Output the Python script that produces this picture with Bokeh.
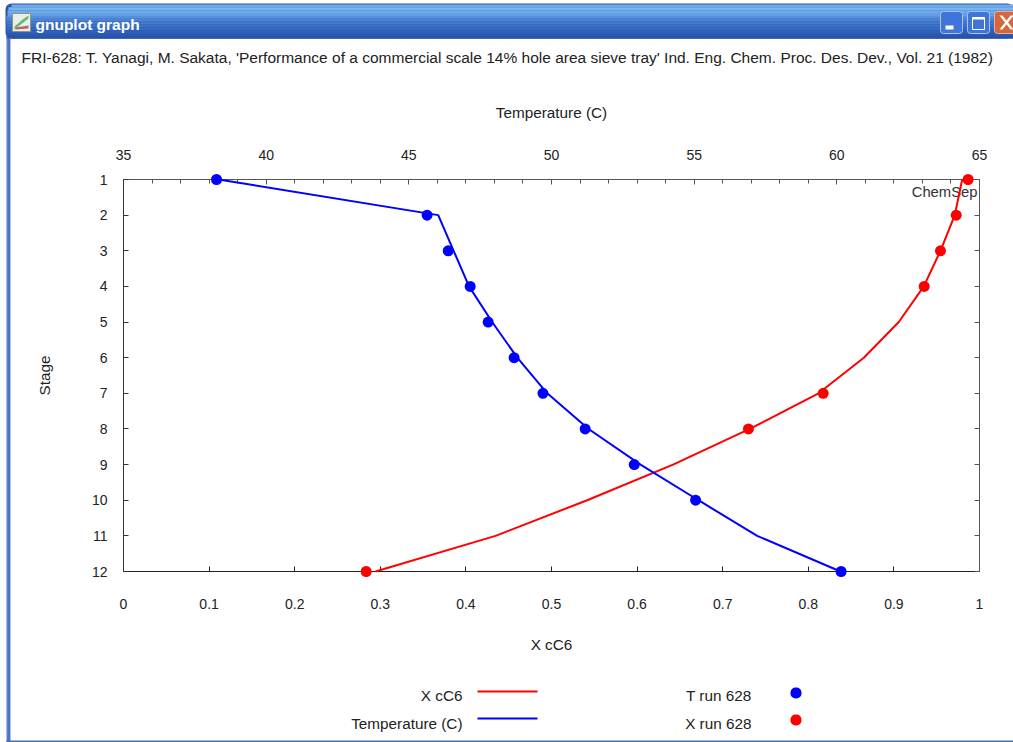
from bokeh.plotting import figure
from bokeh.models import (Range1d, LinearAxis, FixedTicker, Label, BoxAnnotation, PolyAnnotation)
from bokeh.embed import file_html
from bokeh.resources import INLINE

# ---- data ----
stages = [1, 2, 3, 4, 5, 6, 7, 8, 9, 10, 11, 12]
x_cc6 = [0.9798, 0.9711, 0.9544, 0.9349, 0.9057, 0.8649, 0.8120, 0.7315, 0.6420, 0.5417, 0.4346, 0.2944]
temperature = [38.33, 46.03, 46.57, 47.11, 47.92, 48.80, 49.85, 51.30, 53.12, 55.15, 57.21, 60.13]
t_run_stage = [1, 2, 3, 4, 5, 6, 7, 8, 9, 10, 12]
t_run = [38.26, 45.64, 46.38, 47.15, 47.78, 48.69, 49.70, 51.18, 52.90, 55.05, 60.15]
x_run_stage = [1, 2, 3, 4, 7, 8, 12]
x_run = [0.9867, 0.9728, 0.9544, 0.9354, 0.8174, 0.7301, 0.2835]
x_ticks = [0, 0.1, 0.2, 0.3, 0.4, 0.5, 0.6, 0.7, 0.8, 0.9, 1]
t_ticks = [35, 40, 45, 50, 55, 60, 65]
t_minor = [t for t in range(35, 66) if t % 5]
title_text = ("FRI-628: T. Yanagi, M. Sakata, 'Performance of a commercial scale 14% hole area "
              "sieve tray' Ind. Eng. Chem. Proc. Des. Dev., Vol. 21 (1982)")

FONT = "Liberation Sans"
INK = "#222222"
FS = "14px"
LS = "15.3px"
PIN = {"position": "absolute", "left": "0px", "top": "0px"}
FRAME_W, FRAME_H = 856, 392   # plot area size in px
BL, BR, BT, BB = 123, 34, 179, 171  # plot area borders
E = 8  # spare px round the plot area, so markers on its edge are not cut

# ---- full-window backdrop: window frame, title text, legend ----
bg = figure(width=1013, height=742, output_backend="svg", toolbar_location=None,
            x_range=Range1d(0, 1013), y_range=Range1d(742, 0),
            min_border=0, background_fill_color="white", border_fill_color="white",
            outline_line_color=None, x_axis_type=None, y_axis_type=None)
bg.styles = PIN
bg.grid.visible = False

# ---- axes of the chart, laid over the backdrop ----
p = figure(width=1013, height=742, output_backend="svg", toolbar_location=None,
           x_range=Range1d(0, 1), y_range=Range1d(12, 1),
           min_border_left=BL, min_border_right=BR, min_border_top=BT, min_border_bottom=BB,
           background_fill_color=None, border_fill_color=None, outline_line_color=None,
           x_axis_type=None, y_axis_type=None)
p.styles = PIN
p.grid.visible = False
p.extra_x_ranges["temp"] = Range1d(35, 65)

# ---- lines and markers: same scales, slightly larger frame ----
dx = E / FRAME_W
dy = E * 11 / FRAME_H
m = figure(width=1013, height=742, output_backend="svg", toolbar_location=None,
           x_range=Range1d(0 - dx, 1 + dx), y_range=Range1d(12 + dy, 1 - dy),
           min_border_left=BL - E, min_border_right=BR - E,
           min_border_top=BT - E, min_border_bottom=BB - E,
           background_fill_color=None, border_fill_color=None, outline_line_color=None,
           x_axis_type=None, y_axis_type=None)
m.styles = PIN
m.grid.visible = False
m.extra_x_ranges["temp"] = Range1d(35 - 30 * dx, 65 + 30 * dx)


def style(ax, color):
    ax.axis_line_color = color
    ax.axis_line_width = 1
    ax.major_tick_line_color = color
    ax.minor_tick_line_color = color
    ax.major_tick_out = 0
    ax.minor_tick_out = 0
    ax.major_tick_in = 5
    ax.minor_tick_in = 4
    ax.major_label_text_font = FONT
    ax.major_label_text_font_size = FS
    ax.major_label_text_color = INK
    ax.axis_label_text_font = FONT
    ax.axis_label_text_font_size = LS
    ax.axis_label_text_font_style = "normal"
    ax.axis_label_text_color = INK


bottom = LinearAxis(ticker=FixedTicker(ticks=x_ticks), axis_label="X cC6",
                    major_label_overrides={1: "1", 0: "0"})
style(bottom, "#222222")
bottom.major_label_standoff = 27
bottom.axis_label_standoff = 24
p.add_layout(bottom, "below")

top = LinearAxis(x_range_name="temp", ticker=FixedTicker(ticks=t_ticks, minor_ticks=t_minor),
                 axis_label="Temperature (C)")
style(top, "#555555")
top.major_label_standoff = 20
top.axis_label_standoff = 26
p.add_layout(top, "above")

left = LinearAxis(ticker=FixedTicker(ticks=stages), axis_label="Stage")
style(left, "#333333")
left.major_label_standoff = 16
left.axis_label_standoff = 36
p.add_layout(left, "left")

right = LinearAxis(ticker=FixedTicker(ticks=stages),
                   major_label_overrides={s: "" for s in stages})
style(right, "#555555")
p.add_layout(right, "right")

m.line(x_cc6, stages, line_color="#ff0000", line_width=2)
m.line(temperature, stages, line_color="#0000ff", line_width=2, x_range_name="temp")
m.scatter(t_run, t_run_stage, x_range_name="temp", marker="circle", size=11,
          fill_color="#0000ff", line_color="#0000ff", line_width=0)
m.scatter(x_run, x_run_stage, marker="circle", size=11,
          fill_color="#ff0000", line_color="#ff0000", line_width=0)


def box(l, t, r, b, fill, line=None, radius=0):
    bg.add_layout(BoxAnnotation(left=l, right=r, top=t, bottom=b,
                                left_units="canvas", right_units="canvas",
                                top_units="canvas", bottom_units="canvas",
                                fill_color=fill, fill_alpha=1, line_color=line,
                                line_alpha=1 if line else 0, line_width=1,
                                border_radius=radius, level="annotation"))


def poly(xs, ys, fill):
    bg.add_layout(PolyAnnotation(xs=xs, ys=ys, xs_units="canvas", ys_units="canvas",
                                 fill_color=fill, fill_alpha=1, line_color=None))


def label(fig, x, y, text, align="left", color=INK, size=LS, font=FONT, style_="normal"):
    fig.add_layout(Label(x=x, y=y, x_units="canvas", y_units="canvas", text=text,
                         text_align=align, text_baseline="middle", text_color=color,
                         text_font=font, text_font_size=size, text_font_style=style_))


# window frame
box(6, 38, 10, 742, "#5a80c8")
box(8, 38, 9, 742, "#3f68b8")
box(6, 740, 1013, 742, "#4a6db5")
box(5, 3, 1013, 38, "#2a55ae", radius=6)
bands = ["#6fa9ea", "#79b6f0", "#6fabea", "#639fe3", "#5690da", "#4b82d2", "#4379cc",
         "#3c70c6", "#3568c0", "#3061ba", "#2b59b2", "#2853ab"]
lefts = [11, 8, 7, 7, 6, 6, 6, 6, 6, 6, 6, 6]
for i, c in enumerate(bands):
    box(lefts[i], 4 + i * 2.85, 1013, 4 + (i + 1) * 2.85, c)

# title icon
box(12, 13, 30, 31, "#e8eef0", line="#8a9a70")
poly([14, 22, 28, 28, 14], [26, 19, 15, 18, 29], "#66bb66")
poly([15, 28, 28, 15], [27, 25, 28, 29], "#c06070")
label(bg, 35, 24, "gnuplot graph", color="#ffffff", size="15.5px", style_="bold")

# window buttons
box(940, 11, 962, 33, "#3f74d8", line="#a9c4ee", radius=3)
box(945, 25, 953, 29, "#ffffff")
box(967, 11, 989, 33, "#3f74d8", line="#a9c4ee", radius=3)
box(972, 17, 984, 29, "#3f74d8", line="#ffffff")
box(972, 17, 984, 19, "#ffffff")
box(994, 11, 1016, 33, "#d8663c", line="#e8b09a", radius=3)
poly([999, 1002, 1013, 1010], [15, 15, 29, 29], "#ffffff")
poly([1010, 1013, 1002, 999], [15, 15, 29, 29], "#ffffff")

# texts
label(bg, 21, 56.5, title_text, size="15.5px")
label(p, 977, 191, "ChemSep", align="right", color="#333333", size="14.8px")

# legend
label(bg, 462, 694.5, "X cC6", align="right")
label(bg, 462, 722.5, "Temperature (C)", align="right")
box(477, 690, 537, 692, "#ff0000")
box(477, 717, 537, 719, "#0000ff")
label(bg, 751, 694.5, "T run 628", align="right")
label(bg, 751, 722.5, "X run 628", align="right")
box(790, 687, 801, 698, "#0000ff", radius=5)
box(790, 714, 801, 725, "#ff0000", radius=5)

open("out.html", "w").write(file_html([bg, p, m], INLINE))
